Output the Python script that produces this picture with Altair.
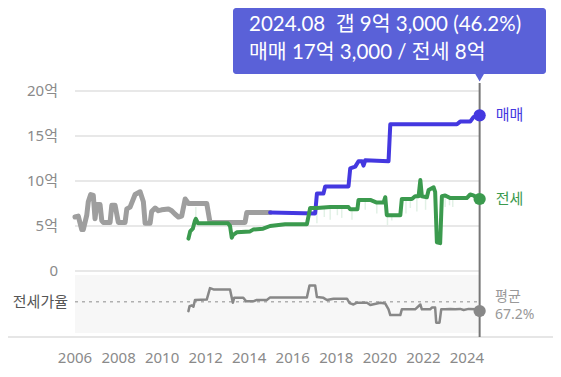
import altair as alt
import pandas as pd

# ---------------- data ----------------
# 매매 (older segment, grey)
gray_years = [2006.00, 2006.15, 2006.31, 2006.38, 2006.54, 2006.61, 2006.72, 2006.84, 2006.92,
              2007.00, 2007.15, 2007.23, 2007.30, 2007.61, 2007.69, 2007.84, 2007.99, 2008.30,
              2008.38, 2008.53, 2008.76, 2008.99, 2009.14, 2009.22, 2009.45, 2009.52, 2009.68,
              2009.83, 2009.98, 2010.29, 2010.44, 2010.60, 2010.75, 2010.90, 2011.06, 2011.21,
              2012.05, 2012.20, 2013.81, 2013.89, 2014.96]
gray_vals = [6.0, 6.1, 4.6, 4.6, 6.2, 7.7, 8.5, 8.4, 5.8,
             7.4, 7.4, 5.6, 5.4, 5.4, 7.3, 7.3, 5.4, 5.4,
             6.9, 7.1, 8.5, 8.8, 7.7, 5.3, 5.3, 6.6, 7.0,
             6.7, 6.8, 6.9, 6.7, 6.3, 6.0, 6.1, 8.0, 7.5,
             7.5, 5.4, 5.4, 6.5, 6.5]

# 매매 (blue)
sale_years = [2014.96, 2017.03, 2017.11, 2017.41, 2017.49, 2018.56, 2018.64, 2018.87, 2019.02,
              2019.18, 2019.25, 2019.33, 2020.40, 2020.48, 2023.54, 2023.69, 2024.15, 2024.30,
              2024.583]
sale_vals = [6.5, 6.4, 8.6, 8.6, 9.4, 9.4, 11.4, 11.6, 12.2,
             12.2, 11.7, 12.3, 12.2, 16.3, 16.3, 16.6, 16.6, 17.1,
             17.3]

# 전세 (green)
jeonse_years = [2011.21, 2011.29, 2011.41, 2011.51, 2011.55, 2011.65, 2013.03, 2013.12, 2013.20,
                2013.26, 2013.43, 2014.04, 2014.18, 2014.64, 2014.96, 2015.65, 2016.65, 2016.80,
                2017.11, 2017.72, 2018.56, 2018.64, 2018.97, 2019.02, 2019.56, 2019.86, 2020.17,
                2020.25, 2020.32, 2020.94, 2021.01, 2021.47, 2021.62, 2021.78, 2021.86, 2021.93,
                2022.16, 2022.24, 2022.47, 2022.54, 2022.62, 2022.77, 2022.85, 2023.00, 2023.23,
                2023.99, 2024.15, 2024.30, 2024.583]
jeonse_vals = [3.6, 4.4, 4.7, 5.6, 5.8, 5.3, 5.3, 5.0, 3.7,
               4.0, 4.3, 4.4, 4.6, 4.7, 5.0, 5.2, 5.2, 7.0,
               7.0, 7.1, 7.1, 6.85, 6.85, 7.9, 7.9, 7.6, 7.6,
               8.2, 6.2, 6.2, 8.0, 8.0, 8.3, 8.3, 10.1, 8.3,
               8.2, 9.0, 9.3, 8.8, 3.2, 3.1, 8.3, 8.4, 8.1,
               8.1, 8.5, 8.4, 8.0]

# faint 전세 transaction spikes
spike_years = [2011.55, 2017.11, 2017.45, 2017.72, 2018.05, 2018.25, 2018.72, 2019.33, 2019.86,
               2020.35, 2020.55, 2021.20, 2021.40, 2021.70, 2022.10, 2023.00, 2023.20, 2023.35]
spike_top = [5.5, 7.0, 7.0, 7.1, 7.1, 7.1, 6.85, 7.9, 7.6,
             6.2, 6.2, 8.0, 8.0, 8.3, 8.2, 8.4, 8.1, 8.1]
spike_low = [7.1, 5.3, 6.0, 5.7, 6.2, 5.9, 5.7, 6.8, 6.4,
             5.1, 5.6, 6.4, 7.0, 6.6, 6.8, 7.1, 7.3, 7.1]

# 전세가율 (%)
ratio_years = [2011.21, 2011.26, 2011.37, 2011.44, 2011.51, 2012.05, 2012.20, 2012.36, 2013.12,
               2013.20, 2013.25, 2013.31, 2013.73, 2013.86, 2014.19, 2014.32, 2014.81, 2014.96,
               2016.65, 2016.77, 2017.03, 2017.11, 2017.41, 2017.57, 2017.87, 2018.49, 2018.61,
               2018.79, 2018.95, 2019.41, 2019.56, 2020.02, 2020.25, 2020.40, 2020.48, 2020.94,
               2021.01, 2021.62, 2021.86, 2021.93, 2022.31, 2022.39, 2022.54, 2022.59, 2022.74,
               2022.82, 2023.00, 2023.23, 2023.46, 2023.69, 2023.85, 2024.08, 2024.46, 2024.583]
ratio_vals = [46, 57, 59, 56, 71, 72, 98, 95, 95,
              76, 65, 76, 76, 68, 68, 71, 71, 77,
              77, 104, 104, 78, 76, 71, 74, 74, 64,
              61, 65, 65, 60, 65, 63, 50, 37, 37,
              50, 50, 61, 50, 50, 54, 54, 20, 20,
              50, 50, 51, 50, 51, 48.5, 51, 50, 46.2]
ratio_avg = 67.2

price_ticks = [0, 5, 10, 15, 20]
price_tick_labels = ["0", "5억", "10억", "15억", "20억"]
year_ticks = [2006, 2008, 2010, 2012, 2014, 2016, 2018, 2020, 2022, 2024]

last_year = 2024.583
last_sale = 17.3
last_jeonse = 8.0
last_ratio = 46.2
tip_line1 = "2024.08\u00a0\u00a0갭 9억 3,000 (46.2%)"
tip_line2 = "매매 17억 3,000 / 전세 8억"

# ---------------- styling ----------------
W, H = 405, 329
FONT = "Noto Sans, Noto Sans CJK KR"
BLUE = "#4438e0"
GREEN = "#3b9a4e"
GRAY = "#9e9e9e"
TIP = "#5a61d8"

xs = alt.Scale(domain=[2006, 2024.6], range=[0, W])
ys_price = alt.Scale(domain=[0, 20], range=[263, 83])
ys_ratio = alt.Scale(domain=[0, 130], range=[323.5, 265.9])

one = pd.DataFrame({"a": [0]})

gray_df = pd.DataFrame({"year": gray_years, "v": gray_vals})
sale_df = pd.DataFrame({"year": sale_years, "v": sale_vals})
jeonse_df = pd.DataFrame({"year": jeonse_years, "v": jeonse_vals})
spike_df = pd.DataFrame({"year": spike_years, "top": spike_top, "low": spike_low})
ratio_df = pd.DataFrame({"year": ratio_years, "v": ratio_vals})
grid_df = pd.DataFrame({"v": price_ticks, "label": price_tick_labels})
year_df = pd.DataFrame({"year": year_ticks, "label": [str(y) for y in year_ticks]})
end_df = pd.DataFrame({"year": [last_year], "sale": [last_sale], "jeonse": [last_jeonse],
                       "ratio": [last_ratio], "avg": [ratio_avg]})

X = alt.X("year:Q", scale=xs, axis=None)

panel = alt.Chart(one).mark_rect(color="#f7f7f7").encode(
    x=alt.value(0), x2=alt.value(W), y=alt.value(267), y2=alt.value(325))

bottom_line = alt.Chart(one).mark_rule(color="#e6e6e6", strokeWidth=2).encode(
    x=alt.value(-75), x2=alt.value(W + 81), y=alt.value(329))

grid = alt.Chart(grid_df).mark_rule(color="#e8e8e8", strokeWidth=2).encode(
    y=alt.Y("v:Q", scale=ys_price, axis=None), x=alt.value(0), x2=alt.value(W))

ylabels = alt.Chart(grid_df).mark_text(align="right", baseline="middle", fontSize=15,
                                       color="#8a8a8a", font=FONT).encode(
    y=alt.Y("v:Q", scale=ys_price, axis=None), x=alt.value(-17), text="label:N")

xlabels = alt.Chart(year_df).mark_text(align="center", baseline="middle", fontSize=15,
                                       color="#8a8a8a", font=FONT).encode(
    x=X, y=alt.value(350), text="label:N")

avg_line = alt.Chart(end_df).mark_rule(color="#b0b0b0", strokeWidth=1.5, strokeDash=[3, 4]).encode(
    y=alt.Y("avg:Q", scale=ys_ratio, axis=None), x=alt.value(0), x2=alt.value(W))

ratio_label = alt.Chart(one).mark_text(align="right", baseline="middle", fontSize=15,
                                       color="#555555", font=FONT, text="전세가율").encode(
    x=alt.value(-7), y=alt.value(293.7))

spikes = alt.Chart(spike_df).mark_rule(color="#e2f1e6", strokeWidth=1.5).encode(
    x=X, y=alt.Y("top:Q", scale=ys_price, axis=None), y2="low:Q")

line_kw = dict(strokeCap="round", strokeJoin="round")
gray_line = alt.Chart(gray_df).mark_line(color=GRAY, strokeWidth=5, **line_kw).encode(
    x=X, y=alt.Y("v:Q", scale=ys_price, axis=None))
sale_line = alt.Chart(sale_df).mark_line(color=BLUE, strokeWidth=4, **line_kw).encode(
    x=X, y=alt.Y("v:Q", scale=ys_price, axis=None))
jeonse_line = alt.Chart(jeonse_df).mark_line(color=GREEN, strokeWidth=4, **line_kw).encode(
    x=X, y=alt.Y("v:Q", scale=ys_price, axis=None))
ratio_line = alt.Chart(ratio_df).mark_line(color="#888888", strokeWidth=2.5, **line_kw).encode(
    x=X, y=alt.Y("v:Q", scale=ys_ratio, axis=None))

vline = alt.Chart(end_df).mark_rule(color="#777777", strokeWidth=2).encode(
    x=X, y=alt.value(75), y2=alt.value(329))

sale_dot = alt.Chart(end_df).mark_circle(color=BLUE, size=150, opacity=1).encode(
    x=X, y=alt.Y("sale:Q", scale=ys_price, axis=None))
jeonse_dot = alt.Chart(end_df).mark_circle(color=GREEN, size=150, opacity=1).encode(
    x=X, y=alt.Y("jeonse:Q", scale=ys_price, axis=None))
ratio_dot = alt.Chart(end_df).mark_circle(color="#888888", size=150, opacity=1).encode(
    x=X, y=alt.Y("ratio:Q", scale=ys_ratio, axis=None))

sale_lab = alt.Chart(end_df).mark_text(align="left", baseline="middle", fontSize=15, dx=16,
                                       color=BLUE, font=FONT, text="매매").encode(
    x=X, y=alt.Y("sale:Q", scale=ys_price, axis=None))
jeonse_lab = alt.Chart(end_df).mark_text(align="left", baseline="middle", fontSize=15, dx=16,
                                         color=GREEN, font=FONT, text="전세").encode(
    x=X, y=alt.Y("jeonse:Q", scale=ys_price, axis=None))
avg_lab1 = alt.Chart(one).mark_text(align="left", baseline="middle", fontSize=14,
                                    color="#999999", font=FONT, text="평균").encode(
    x=alt.value(420), y=alt.value(288.7))
avg_pct = alt.Chart(end_df).transform_calculate(t="format(datum.avg, '.1f') + '%'").mark_text(
    align="left", baseline="middle", fontSize=14, color="#999999", font=FONT).encode(
    x=alt.value(420), y=alt.value(307), text="t:N")

tip_box = alt.Chart(one).mark_rect(color=TIP, cornerRadius=3).encode(
    x=alt.value(158), x2=alt.value(471), y=alt.value(0), y2=alt.value(66))
tip_arrow = alt.Chart(end_df).mark_point(shape="triangle-down", filled=True, color=TIP,
                                         size=160, opacity=1).encode(
    x=X, y=alt.value(68))
tip_t1 = alt.Chart(one).mark_text(align="left", baseline="middle", fontSize=20.5, color="white",
                                  font="Lato, Noto Sans CJK KR", text=tip_line1).encode(
    x=alt.value(174), y=alt.value(17))
tip_t2 = alt.Chart(one).mark_text(align="left", baseline="middle", fontSize=20.5, color="white",
                                  font="Lato, Noto Sans CJK KR", text=tip_line2).encode(
    x=alt.value(174), y=alt.value(45))

chart = alt.layer(
    panel, bottom_line, grid, ylabels, xlabels, avg_line, ratio_label,
    spikes, gray_line, sale_line, jeonse_line, ratio_line, vline,
    sale_dot, jeonse_dot, ratio_dot, sale_lab, jeonse_lab, avg_lab1, avg_pct,
    tip_box, tip_arrow, tip_t1, tip_t2,
).resolve_scale(y="independent").properties(
    width=W, height=H,
    padding={"left": 67, "top": 0, "right": 73, "bottom": 32},
    autosize=alt.AutoSizeParams(type="none"),
    background="white",
).configure_view(stroke=None)

chart.save("out.html", embed_options={"renderer": "svg", "actions": False})
